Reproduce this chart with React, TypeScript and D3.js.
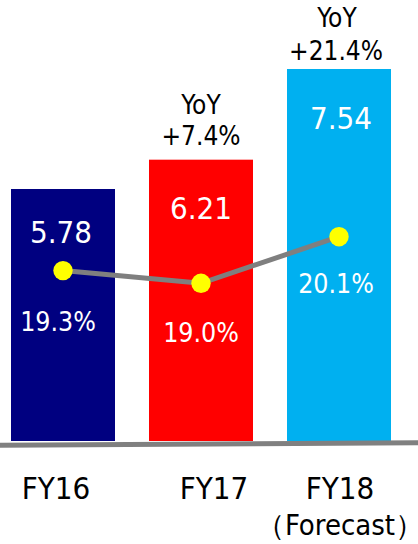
import React from "react";
import * as d3 from "d3";

const categories = ["FY16", "FY17", "FY18"];
const subLabels = ["", "", "（Forecast）"];
const sales = [5.78, 6.21, 7.54];
const margins = [19.3, 19.0, 20.1];
const yoyLabels = ["", "+7.4%", "+21.4%"];
const barColors = ["#000080", "#ff0000", "#00b0f0"];

const W = 418;
const H = 544;
const FONT = "'DejaVu Sans Condensed', 'DejaVu Sans', sans-serif";

// per-label layout offsets (pixels)
const valueDy = [54, 59, 60];
const pctDx = [-5, 0, -3];
const pctDy = [60, 59, 56];
const catDx = [-7, 13, 1];

export default function App() {
  const x = d3
    .scaleBand<string>()
    .domain(categories)
    .range([11, 391])
    .paddingInner(34 / 138)
    .paddingOuter(0);
  const y = d3.scaleLinear().domain([2.084, 7.54]).range([441, 69]);
  const yM = d3.scaleLinear().domain([19.0, 20.1]).range([283.3, 236.7]);

  const pts: [number, number][] = margins.map((m, i) => [
    (x(categories[i]) as number) + x.bandwidth() / 2,
    yM(m),
  ]);
  const line = d3.line();

  return (
    <svg
      width={W}
      height={H}
      style={{ position: "absolute", left: 0, top: 0 }}
      fontFamily={FONT}
    >
      <rect width={W} height={H} fill="#fff" />
      {sales.map((v, i) => (
        <rect
          key={"b" + i}
          x={x(categories[i])}
          y={y(v)}
          width={x.bandwidth()}
          height={y(y.domain()[0]) - y(v)}
          fill={barColors[i]}
        />
      ))}
      <line x1={0} y1={445.3} x2={W} y2={442.7} stroke="#808080" strokeWidth={5} />
      <path d={line(pts) || ""} fill="none" stroke="#7f7f7f" strokeWidth={5} />
      {pts.map((p, i) => (
        <circle key={"c" + i} cx={p[0]} cy={p[1]} r={9.7} fill="#ffff00" />
      ))}
      {sales.map((v, i) => (
        <text
          key={"v" + i}
          x={(x(categories[i]) as number) + x.bandwidth() / 2 - (i === 0 ? 2 : 0) + (i === 2 ? 2 : 0)}
          y={y(v) + valueDy[i]}
          fill="#fff"
          fontSize={31}
          textAnchor="middle"
        >
          {v.toFixed(2)}
        </text>
      ))}
      {margins.map((m, i) => (
        <text
          key={"p" + i}
          x={pts[i][0] + pctDx[i]}
          y={pts[i][1] + pctDy[i]}
          fill="#fff"
          fontSize={26.5}
          textAnchor="middle"
        >
          {m.toFixed(1) + "%"}
        </text>
      ))}
      {yoyLabels.map((t, i) =>
        t ? (
          <g key={"y" + i}>
            <text
              x={(x(categories[i]) as number) + x.bandwidth() / 2 - (i === 2 ? 2 : 0)}
              y={y(sales[i]) - (i === 2 ? 42 : 46)}
              fill="#000"
              fontSize={26}
              textAnchor="middle"
            >
              YoY
            </text>
            <text
              x={(x(categories[i]) as number) + x.bandwidth() / 2 - (i === 2 ? 3 : 0)}
              y={y(sales[i]) - (i === 2 ? 9 : 15)}
              fill="#000"
              fontSize={26}
              textAnchor="middle"
            >
              {t}
            </text>
          </g>
        ) : null
      )}
      {categories.map((c, i) => (
        <g key={"x" + i}>
          <text
            x={(x(c) as number) + x.bandwidth() / 2 + catDx[i]}
            y={498.5}
            fill="#000"
            fontSize={31}
            textAnchor="middle"
          >
            {c}
          </text>
          {subLabels[i] ? (
            <text
              x={(x(c) as number) + x.bandwidth() / 2 + catDx[i] - 10}
              y={535}
              fill="#000"
              fontSize={29}
              textAnchor="middle"
            >
              {subLabels[i].slice(0, -1)}
              <tspan style={{ letterSpacing: "-20px" }}>{subLabels[i].slice(-1)}</tspan>
            </text>
          ) : null}
        </g>
      ))}
    </svg>
  );
}
